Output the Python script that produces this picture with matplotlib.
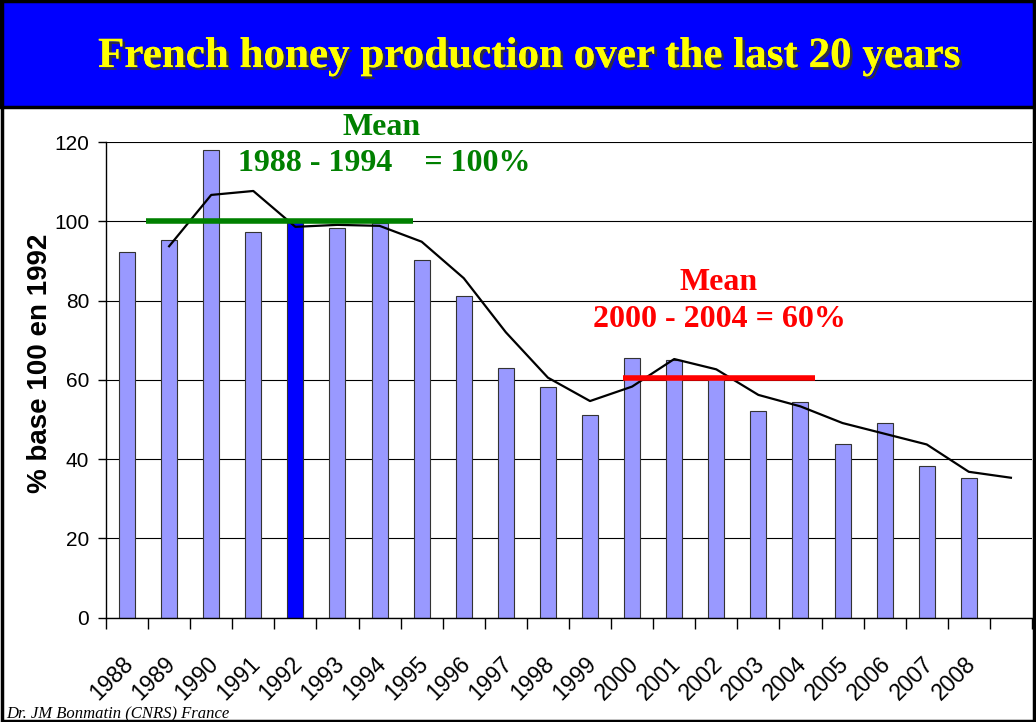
import numpy as np
import pandas as pd
import matplotlib.pyplot as plt
from matplotlib.patches import Rectangle
import matplotlib.patheffects as pe

years = [str(y) for y in range(1988, 2009)] + [""]
production = [92.2, 95.2, 118.1, 97.2, 100.0, 98.2, 99.5, 90.2, 81.1, 62.9, 58.2,
              51.1, 65.5, 65.0, 60.3, 52.1, 54.5, 43.7, 49.1, 38.3, 35.3, np.nan]
highlight_year = "1992"

# Excel-style 2 period moving average trendline
trend = pd.Series(production).rolling(2, min_periods=1).mean()

mean_old = 100
mean_new = 60.5

serif = ["Liberation Serif", "DejaVu Serif"]
sans = ["Liberation Sans", "DejaVu Sans"]

fig = plt.figure(figsize=(10.36, 7.22), dpi=100)
fig.patch.set_facecolor("white")

# header band
fig.patches.append(Rectangle((0, 0.852), 1, 0.148, transform=fig.transFigure,
                             facecolor="#0000FF", edgecolor="black", lw=2.5, zorder=0))
fig.patches.append(Rectangle((0.0015, 0.002), 0.997, 0.996, transform=fig.transFigure,
                             facecolor="none", edgecolor="black", lw=2.5, zorder=5))
fig.text(0.51, 0.921, "French honey production over the last 20 years", ha="center", va="center",
         fontsize=31, fontweight="bold", color="#FFFF00", family=serif,
         path_effects=[pe.withSimplePatchShadow(offset=(2, -2), shadow_rgbFace="#333333", alpha=0.9),
                       pe.Normal()])

ax = fig.add_axes([0.1023, 0.1445, 0.8938, 0.6588])
x = np.arange(len(years))
colors = ["#0000FF" if y == highlight_year else "#9999FF" for y in years]
ax.bar(x, production, width=0.38, color=colors, edgecolor="#333333", linewidth=0.8, zorder=2)
ax.plot(x[1:], trend[1:], color="black", lw=1.6, zorder=3)

ax.plot([0.44, 6.79], [mean_old, mean_old], color="#008000", lw=4, solid_capstyle="butt", zorder=4)
ax.plot([11.78, 16.34], [mean_new, mean_new], color="#FF0000", lw=4, solid_capstyle="butt", zorder=4)

ax.set_xlim(-0.5, len(years) - 0.5)
ax.set_ylim(0, 120)
ax.set_yticks(range(0, 121, 20))
ax.yaxis.grid(True, color="black", lw=0.8)
ax.set_axisbelow(True)
for s in ["top", "right"]:
    ax.spines[s].set_visible(False)
ax.spines["left"].set_linewidth(1)
ax.spines["bottom"].set_linewidth(1)

ax.set_xticks(np.arange(-0.5, len(years)), minor=False)
ax.set_xticklabels([])
# labels sit a little left of the bar centres, as in the original slide
ax.set_xticks(x - 0.12, minor=True)
ax.set_xticklabels(years, minor=True, rotation=45, ha="right", rotation_mode="anchor",
                   fontsize=16.5, family=sans)
ax.tick_params(axis="x", which="major", length=8, direction="out", width=1)
ax.tick_params(axis="x", which="minor", length=0, pad=25)
ax.tick_params(axis="y", length=6, width=1, labelsize=15, pad=6)
for t in ax.get_yticklabels():
    t.set_family(sans)

fig.text(0.039, 0.497, "% base 100 en 1992", rotation=90, ha="center", va="center",
         fontsize=20, fontweight="bold", family=sans)

fig.text(0.368, 0.824, "Mean", ha="center", va="center", fontsize=23, fontweight="bold",
         color="#008000", family=serif)
fig.text(0.371, 0.774, "1988 - 1994    = 100%", ha="center", va="center", fontsize=23,
         fontweight="bold", color="#008000", family=serif)
fig.text(0.694, 0.609, "Mean", ha="center", va="center", fontsize=23, fontweight="bold",
         color="#FF0000", family=serif)
fig.text(0.694, 0.557, "2000 - 2004 = 60%", ha="center", va="center", fontsize=23,
         fontweight="bold", color="#FF0000", family=serif)

fig.text(0.006, 0.011, "Dr. JM Bonmatin (CNRS) France", ha="left", va="center", fontsize=12,
         style="italic", family=serif)

fig.savefig("out.png", dpi=100)
